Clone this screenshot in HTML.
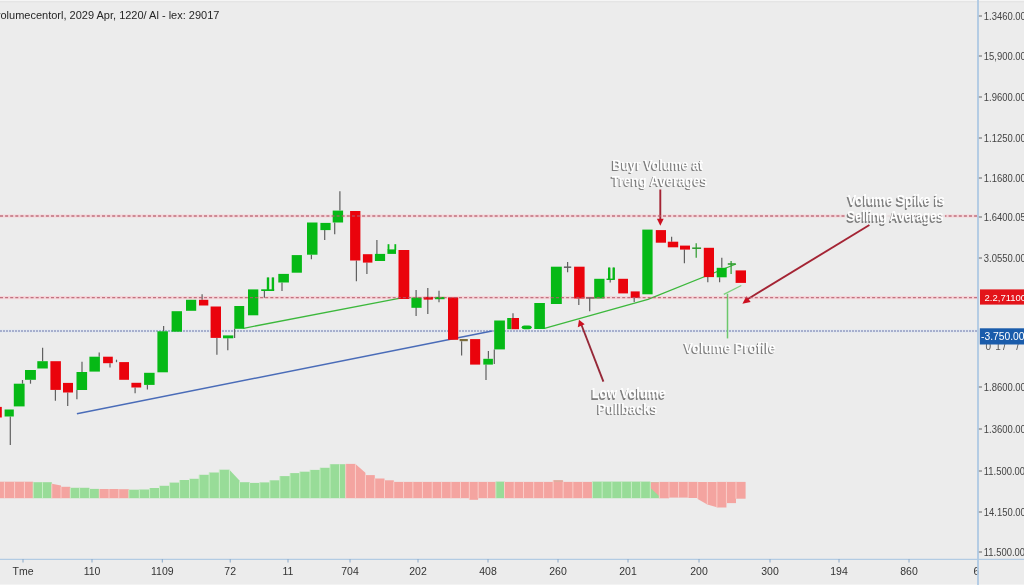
<!DOCTYPE html>
<html><head><meta charset="utf-8"><style>
html,body{margin:0;padding:0;background:#ececec;}
body{width:1024px;height:585px;overflow:hidden;position:relative;font-family:"Liberation Sans",sans-serif;}
svg{position:absolute;left:0;top:0;}
text{opacity:0.995;}
.ax{font-family:"Liberation Sans",sans-serif;font-size:10px;fill:#444;}
.xl{font-family:"Liberation Sans",sans-serif;font-size:10.5px;fill:#333;}
.ttl{font-family:"Liberation Sans",sans-serif;font-size:11px;fill:#262626;}
.an{font-family:"Liberation Sans",sans-serif;fill:#ffffff;font-weight:bold;font-size:14px;}
.sh{font-family:"Liberation Sans",sans-serif;fill:#7e7e7e;font-weight:bold;font-size:14px;}
</style></head><body>
<svg width="1024" height="585" viewBox="0 0 1024 585">
<defs><filter id="bl" x="-10%" y="-30%" width="120%" height="160%"><feGaussianBlur stdDeviation="0.6"/></filter></defs>
<rect width="1024" height="585" fill="#ececec"/>
<rect width="1024" height="1" fill="#f5f5f5"/><rect y="1" width="1024" height="1.5" fill="#e5e5e5"/><rect y="584" width="1024" height="1" fill="#f3f3f3"/>
<text x="-5" y="19.1" class="ttl">volumecentorl, 2029 Apr, 1220/ Al - lex: 29017</text>
<line x1="0" y1="216" x2="978" y2="216" stroke="#f5d5d9" stroke-width="3.2"/>
<line x1="0" y1="297.6" x2="978" y2="297.6" stroke="#f5d5d9" stroke-width="3.2"/>
<line x1="0" y1="331" x2="978" y2="331" stroke="#e2e7f0" stroke-width="3"/>
<line x1="0" y1="331" x2="978" y2="331" stroke="#6d78aa" stroke-width="1.2" stroke-dasharray="2 1"/>
<polygon points="0.0,481.7 4.4,481.7 4.4,498.2 0.0,498.2" fill="#f4a4a0"/>
<polygon points="4.4,481.7 14.6,481.7 14.6,498.2 4.4,498.2" fill="#f4a4a0"/>
<line x1="4.4" y1="481.7" x2="4.4" y2="498.2" stroke="#fbcfcb" stroke-width="0.9"/>
<polygon points="14.6,481.7 24.4,481.7 24.4,498.2 14.6,498.2" fill="#f4a4a0"/>
<line x1="14.6" y1="481.7" x2="14.6" y2="498.2" stroke="#fbcfcb" stroke-width="0.9"/>
<polygon points="24.4,481.7 33.2,481.7 33.2,498.2 24.4,498.2" fill="#f4a4a0"/>
<line x1="24.4" y1="481.7" x2="24.4" y2="498.2" stroke="#fbcfcb" stroke-width="0.9"/>
<polygon points="33.2,482.2 42.5,482.2 42.5,498.2 33.2,498.2" fill="#98dc98"/>
<line x1="33.2" y1="482.2" x2="33.2" y2="498.2" stroke="#c9efc6" stroke-width="0.9"/>
<polygon points="42.5,482.2 51.8,482.2 51.8,498.2 42.5,498.2" fill="#98dc98"/>
<line x1="42.5" y1="482.2" x2="42.5" y2="498.2" stroke="#c9efc6" stroke-width="0.9"/>
<polygon points="51.8,483.7 61.0,485.6 61.0,498.2 51.8,498.2" fill="#f4a4a0"/>
<line x1="51.8" y1="483.7" x2="51.8" y2="498.2" stroke="#fbcfcb" stroke-width="0.9"/>
<polygon points="61.0,486.8 70.3,486.8 70.3,498.2 61.0,498.2" fill="#f4a4a0"/>
<line x1="61.0" y1="486.8" x2="61.0" y2="498.2" stroke="#fbcfcb" stroke-width="0.9"/>
<polygon points="70.3,487.8 79.6,487.8 79.6,498.2 70.3,498.2" fill="#98dc98"/>
<line x1="70.3" y1="487.8" x2="70.3" y2="498.2" stroke="#c9efc6" stroke-width="0.9"/>
<polygon points="79.6,487.8 89.4,487.8 89.4,498.2 79.6,498.2" fill="#98dc98"/>
<line x1="79.6" y1="487.8" x2="79.6" y2="498.2" stroke="#c9efc6" stroke-width="0.9"/>
<polygon points="89.4,488.9 99.3,488.9 99.3,498.2 89.4,498.2" fill="#98dc98"/>
<line x1="89.4" y1="488.9" x2="89.4" y2="498.2" stroke="#c9efc6" stroke-width="0.9"/>
<polygon points="99.3,489 109.0,489 109.0,498.2 99.3,498.2" fill="#f4a4a0"/>
<line x1="99.3" y1="489" x2="99.3" y2="498.2" stroke="#fbcfcb" stroke-width="0.9"/>
<polygon points="109.0,489 118.8,489 118.8,498.2 109.0,498.2" fill="#f4a4a0"/>
<line x1="109.0" y1="489" x2="109.0" y2="498.2" stroke="#fbcfcb" stroke-width="0.9"/>
<polygon points="118.8,489.2 128.9,489.2 128.9,498.2 118.8,498.2" fill="#f4a4a0"/>
<line x1="118.8" y1="489.2" x2="118.8" y2="498.2" stroke="#fbcfcb" stroke-width="0.9"/>
<polygon points="128.9,489.7 139.3,489.7 139.3,498.2 128.9,498.2" fill="#98dc98"/>
<line x1="128.9" y1="489.7" x2="128.9" y2="498.2" stroke="#c9efc6" stroke-width="0.9"/>
<polygon points="139.3,489.5 149.6,489.5 149.6,498.2 139.3,498.2" fill="#98dc98"/>
<line x1="139.3" y1="489.5" x2="139.3" y2="498.2" stroke="#c9efc6" stroke-width="0.9"/>
<polygon points="149.6,488 159.5,488 159.5,498.2 149.6,498.2" fill="#98dc98"/>
<line x1="149.6" y1="488" x2="149.6" y2="498.2" stroke="#c9efc6" stroke-width="0.9"/>
<polygon points="159.5,485.8 169.6,485.8 169.6,498.2 159.5,498.2" fill="#98dc98"/>
<line x1="159.5" y1="485.8" x2="159.5" y2="498.2" stroke="#c9efc6" stroke-width="0.9"/>
<polygon points="169.6,482.6 179.6,482.6 179.6,498.2 169.6,498.2" fill="#98dc98"/>
<line x1="169.6" y1="482.6" x2="169.6" y2="498.2" stroke="#c9efc6" stroke-width="0.9"/>
<polygon points="179.6,480 189.5,480 189.5,498.2 179.6,498.2" fill="#98dc98"/>
<line x1="179.6" y1="480" x2="179.6" y2="498.2" stroke="#c9efc6" stroke-width="0.9"/>
<polygon points="189.5,478.8 199.1,478.8 199.1,498.2 189.5,498.2" fill="#98dc98"/>
<line x1="189.5" y1="478.8" x2="189.5" y2="498.2" stroke="#c9efc6" stroke-width="0.9"/>
<polygon points="199.1,474.8 209.1,474.8 209.1,498.2 199.1,498.2" fill="#98dc98"/>
<line x1="199.1" y1="474.8" x2="199.1" y2="498.2" stroke="#c9efc6" stroke-width="0.9"/>
<polygon points="209.1,472.5 219.3,472.5 219.3,498.2 209.1,498.2" fill="#98dc98"/>
<line x1="209.1" y1="472.5" x2="209.1" y2="498.2" stroke="#c9efc6" stroke-width="0.9"/>
<polygon points="219.3,469.7 229.4,469.7 229.4,498.2 219.3,498.2" fill="#98dc98"/>
<line x1="219.3" y1="469.7" x2="219.3" y2="498.2" stroke="#c9efc6" stroke-width="0.9"/>
<polygon points="229.4,469.7 239.5,480.5 239.5,498.2 229.4,498.2" fill="#98dc98"/>
<line x1="229.4" y1="469.7" x2="229.4" y2="498.2" stroke="#c9efc6" stroke-width="0.9"/>
<polygon points="239.5,482.2 249.6,482.2 249.6,498.2 239.5,498.2" fill="#98dc98"/>
<line x1="239.5" y1="482.2" x2="239.5" y2="498.2" stroke="#c9efc6" stroke-width="0.9"/>
<polygon points="249.6,482.9 259.8,482.9 259.8,498.2 249.6,498.2" fill="#98dc98"/>
<line x1="249.6" y1="482.9" x2="249.6" y2="498.2" stroke="#c9efc6" stroke-width="0.9"/>
<polygon points="259.8,482.4 269.8,482.4 269.8,498.2 259.8,498.2" fill="#98dc98"/>
<line x1="259.8" y1="482.4" x2="259.8" y2="498.2" stroke="#c9efc6" stroke-width="0.9"/>
<polygon points="269.8,480.3 279.8,480.3 279.8,498.2 269.8,498.2" fill="#98dc98"/>
<line x1="269.8" y1="480.3" x2="269.8" y2="498.2" stroke="#c9efc6" stroke-width="0.9"/>
<polygon points="279.8,476.1 290.0,476.1 290.0,498.2 279.8,498.2" fill="#98dc98"/>
<line x1="279.8" y1="476.1" x2="279.8" y2="498.2" stroke="#c9efc6" stroke-width="0.9"/>
<polygon points="290.0,473.1 299.8,473.1 299.8,498.2 290.0,498.2" fill="#98dc98"/>
<line x1="290.0" y1="473.1" x2="290.0" y2="498.2" stroke="#c9efc6" stroke-width="0.9"/>
<polygon points="299.8,471.7 310.0,471.7 310.0,498.2 299.8,498.2" fill="#98dc98"/>
<line x1="299.8" y1="471.7" x2="299.8" y2="498.2" stroke="#c9efc6" stroke-width="0.9"/>
<polygon points="310.0,469.9 320.0,469.9 320.0,498.2 310.0,498.2" fill="#98dc98"/>
<line x1="310.0" y1="469.9" x2="310.0" y2="498.2" stroke="#c9efc6" stroke-width="0.9"/>
<polygon points="320.0,467.8 330.0,467.8 330.0,498.2 320.0,498.2" fill="#98dc98"/>
<line x1="320.0" y1="467.8" x2="320.0" y2="498.2" stroke="#c9efc6" stroke-width="0.9"/>
<polygon points="330.0,464.2 339.5,464.2 339.5,498.2 330.0,498.2" fill="#98dc98"/>
<line x1="330.0" y1="464.2" x2="330.0" y2="498.2" stroke="#c9efc6" stroke-width="0.9"/>
<polygon points="339.5,464.2 345.7,464.2 345.7,498.2 339.5,498.2" fill="#98dc98"/>
<line x1="339.5" y1="464.2" x2="339.5" y2="498.2" stroke="#c9efc6" stroke-width="0.9"/>
<polygon points="345.7,463.9 355.4,463.9 355.4,498.2 345.7,498.2" fill="#f4a4a0"/>
<line x1="345.7" y1="463.9" x2="345.7" y2="498.2" stroke="#fbcfcb" stroke-width="0.9"/>
<polygon points="355.4,463.9 365.4,472.8 365.4,498.2 355.4,498.2" fill="#f4a4a0"/>
<line x1="355.4" y1="463.9" x2="355.4" y2="498.2" stroke="#fbcfcb" stroke-width="0.9"/>
<polygon points="365.4,475.1 374.8,475.1 374.8,498.2 365.4,498.2" fill="#f4a4a0"/>
<line x1="365.4" y1="475.1" x2="365.4" y2="498.2" stroke="#fbcfcb" stroke-width="0.9"/>
<polygon points="374.8,478.5 384.5,478.5 384.5,498.2 374.8,498.2" fill="#f4a4a0"/>
<line x1="374.8" y1="478.5" x2="374.8" y2="498.2" stroke="#fbcfcb" stroke-width="0.9"/>
<polygon points="384.5,480.3 393.8,480.3 393.8,498.2 384.5,498.2" fill="#f4a4a0"/>
<line x1="384.5" y1="480.3" x2="384.5" y2="498.2" stroke="#fbcfcb" stroke-width="0.9"/>
<polygon points="393.8,481.9 403.6,481.9 403.6,498.2 393.8,498.2" fill="#f4a4a0"/>
<line x1="393.8" y1="481.9" x2="393.8" y2="498.2" stroke="#fbcfcb" stroke-width="0.9"/>
<polygon points="403.6,481.9 412.9,481.9 412.9,498.2 403.6,498.2" fill="#f4a4a0"/>
<line x1="403.6" y1="481.9" x2="403.6" y2="498.2" stroke="#fbcfcb" stroke-width="0.9"/>
<polygon points="412.9,481.9 422.4,481.9 422.4,498.2 412.9,498.2" fill="#f4a4a0"/>
<line x1="412.9" y1="481.9" x2="412.9" y2="498.2" stroke="#fbcfcb" stroke-width="0.9"/>
<polygon points="422.4,481.9 432.2,481.9 432.2,498.2 422.4,498.2" fill="#f4a4a0"/>
<line x1="422.4" y1="481.9" x2="422.4" y2="498.2" stroke="#fbcfcb" stroke-width="0.9"/>
<polygon points="432.2,481.9 441.6,481.9 441.6,498.2 432.2,498.2" fill="#f4a4a0"/>
<line x1="432.2" y1="481.9" x2="432.2" y2="498.2" stroke="#fbcfcb" stroke-width="0.9"/>
<polygon points="441.6,481.9 451.0,481.9 451.0,498.2 441.6,498.2" fill="#f4a4a0"/>
<line x1="441.6" y1="481.9" x2="441.6" y2="498.2" stroke="#fbcfcb" stroke-width="0.9"/>
<polygon points="451.0,481.9 460.5,481.9 460.5,498.2 451.0,498.2" fill="#f4a4a0"/>
<line x1="451.0" y1="481.9" x2="451.0" y2="498.2" stroke="#fbcfcb" stroke-width="0.9"/>
<polygon points="460.5,481.9 469.3,481.9 469.3,498.2 460.5,498.2" fill="#f4a4a0"/>
<line x1="460.5" y1="481.9" x2="460.5" y2="498.2" stroke="#fbcfcb" stroke-width="0.9"/>
<polygon points="469.3,481.9 478.1,481.9 478.1,499.8 469.3,499.8" fill="#f4a4a0"/>
<line x1="469.3" y1="481.9" x2="469.3" y2="499.8" stroke="#fbcfcb" stroke-width="0.9"/>
<polygon points="478.1,481.9 487.4,481.9 487.4,498.2 478.1,498.2" fill="#f4a4a0"/>
<line x1="478.1" y1="481.9" x2="478.1" y2="498.2" stroke="#fbcfcb" stroke-width="0.9"/>
<polygon points="487.4,481.9 495.9,481.9 495.9,498.2 487.4,498.2" fill="#f4a4a0"/>
<line x1="487.4" y1="481.9" x2="487.4" y2="498.2" stroke="#fbcfcb" stroke-width="0.9"/>
<polygon points="495.9,481.6 504.5,481.6 504.5,498.2 495.9,498.2" fill="#98dc98"/>
<line x1="495.9" y1="481.6" x2="495.9" y2="498.2" stroke="#c9efc6" stroke-width="0.9"/>
<polygon points="504.5,481.9 514.2,481.9 514.2,498.2 504.5,498.2" fill="#f4a4a0"/>
<line x1="504.5" y1="481.9" x2="504.5" y2="498.2" stroke="#fbcfcb" stroke-width="0.9"/>
<polygon points="514.2,481.9 523.5,481.9 523.5,498.2 514.2,498.2" fill="#f4a4a0"/>
<line x1="514.2" y1="481.9" x2="514.2" y2="498.2" stroke="#fbcfcb" stroke-width="0.9"/>
<polygon points="523.5,481.9 533.7,481.9 533.7,498.2 523.5,498.2" fill="#f4a4a0"/>
<line x1="523.5" y1="481.9" x2="523.5" y2="498.2" stroke="#fbcfcb" stroke-width="0.9"/>
<polygon points="533.7,481.9 543.6,481.9 543.6,498.2 533.7,498.2" fill="#f4a4a0"/>
<line x1="533.7" y1="481.9" x2="533.7" y2="498.2" stroke="#fbcfcb" stroke-width="0.9"/>
<polygon points="543.6,481.9 553.1,481.9 553.1,498.2 543.6,498.2" fill="#f4a4a0"/>
<line x1="543.6" y1="481.9" x2="543.6" y2="498.2" stroke="#fbcfcb" stroke-width="0.9"/>
<polygon points="553.1,480.3 563.1,480.3 563.1,498.2 553.1,498.2" fill="#f4a4a0"/>
<rect x="553.6" y="480.3" width="9.0" height="1.6" fill="#dcb0a0"/>
<line x1="553.1" y1="480.3" x2="553.1" y2="498.2" stroke="#fbcfcb" stroke-width="0.9"/>
<polygon points="563.1,481.9 572.9,481.9 572.9,498.2 563.1,498.2" fill="#f4a4a0"/>
<line x1="563.1" y1="481.9" x2="563.1" y2="498.2" stroke="#fbcfcb" stroke-width="0.9"/>
<polygon points="572.9,481.9 582.6,481.9 582.6,498.2 572.9,498.2" fill="#f4a4a0"/>
<line x1="572.9" y1="481.9" x2="572.9" y2="498.2" stroke="#fbcfcb" stroke-width="0.9"/>
<polygon points="582.6,481.9 592.4,481.9 592.4,498.2 582.6,498.2" fill="#f4a4a0"/>
<line x1="582.6" y1="481.9" x2="582.6" y2="498.2" stroke="#fbcfcb" stroke-width="0.9"/>
<polygon points="592.4,481.6 602.1,481.6 602.1,498.2 592.4,498.2" fill="#98dc98"/>
<line x1="592.4" y1="481.6" x2="592.4" y2="498.2" stroke="#c9efc6" stroke-width="0.9"/>
<polygon points="602.1,481.6 611.9,481.6 611.9,498.2 602.1,498.2" fill="#98dc98"/>
<line x1="602.1" y1="481.6" x2="602.1" y2="498.2" stroke="#c9efc6" stroke-width="0.9"/>
<polygon points="611.9,481.6 621.7,481.6 621.7,498.2 611.9,498.2" fill="#98dc98"/>
<line x1="611.9" y1="481.6" x2="611.9" y2="498.2" stroke="#c9efc6" stroke-width="0.9"/>
<polygon points="621.7,481.6 631.4,481.6 631.4,498.2 621.7,498.2" fill="#98dc98"/>
<line x1="621.7" y1="481.6" x2="621.7" y2="498.2" stroke="#c9efc6" stroke-width="0.9"/>
<polygon points="631.4,481.6 640.7,481.6 640.7,498.2 631.4,498.2" fill="#98dc98"/>
<line x1="631.4" y1="481.6" x2="631.4" y2="498.2" stroke="#c9efc6" stroke-width="0.9"/>
<polygon points="640.7,481.6 650.3,481.6 650.3,498.2 640.7,498.2" fill="#98dc98"/>
<line x1="640.7" y1="481.6" x2="640.7" y2="498.2" stroke="#c9efc6" stroke-width="0.9"/>
<polygon points="650.3,482.2 659.3,482.2 659.3,498.2 650.3,498.2" fill="#98dc98"/>
<polygon points="650.8,482.2 659.3,482.2 659.3,496.2 650.8,488.2" fill="#f4a4a0"/>
<line x1="650.3" y1="482.2" x2="650.3" y2="498.2" stroke="#c9efc6" stroke-width="0.9"/>
<polygon points="659.3,481.9 669.0,481.9 669.0,498.3 659.3,498.3" fill="#f4a4a0"/>
<line x1="659.3" y1="481.9" x2="659.3" y2="498.3" stroke="#fbcfcb" stroke-width="0.9"/>
<polygon points="669.0,481.9 678.6,481.9 678.6,497.6 669.0,497.6" fill="#f4a4a0"/>
<line x1="669.0" y1="481.9" x2="669.0" y2="497.6" stroke="#fbcfcb" stroke-width="0.9"/>
<polygon points="678.6,481.9 688.1,481.9 688.1,497.6 678.6,497.6" fill="#f4a4a0"/>
<line x1="678.6" y1="481.9" x2="678.6" y2="497.6" stroke="#fbcfcb" stroke-width="0.9"/>
<polygon points="688.1,481.9 697.7,481.9 697.7,498 688.1,498" fill="#f4a4a0"/>
<line x1="688.1" y1="481.9" x2="688.1" y2="498" stroke="#fbcfcb" stroke-width="0.9"/>
<polygon points="697.7,481.9 707.3,481.9 707.3,504.5 697.7,499" fill="#f4a4a0"/>
<line x1="697.7" y1="481.9" x2="697.7" y2="499" stroke="#fbcfcb" stroke-width="0.9"/>
<polygon points="707.3,481.9 716.9,481.9 716.9,507.3 707.3,504.5" fill="#f4a4a0"/>
<line x1="707.3" y1="481.9" x2="707.3" y2="504.5" stroke="#fbcfcb" stroke-width="0.9"/>
<polygon points="716.9,481.9 726.4,481.9 726.4,507.5 716.9,507.5" fill="#f4a4a0"/>
<line x1="716.9" y1="481.9" x2="716.9" y2="507.5" stroke="#fbcfcb" stroke-width="0.9"/>
<polygon points="726.4,481.9 736.0,481.9 736.0,503.1 726.4,503.1" fill="#f4a4a0"/>
<line x1="726.4" y1="481.9" x2="726.4" y2="503.1" stroke="#fbcfcb" stroke-width="0.9"/>
<polygon points="736.0,481.9 745.6,481.9 745.6,498.7 736.0,498.7" fill="#f4a4a0"/>
<line x1="736.0" y1="481.9" x2="736.0" y2="498.7" stroke="#fbcfcb" stroke-width="0.9"/>
<line x1="76.9" y1="413.7" x2="492" y2="331" stroke="#4a6cb8" stroke-width="1.5"/>
<line x1="243.5" y1="328.3" x2="399" y2="298.3" stroke="#3cb83c" stroke-width="1.3"/>
<polyline points="544.5,328.4 648,299.4 736,264" fill="none" stroke="#3cb83c" stroke-width="1.3"/>
<line x1="723.8" y1="294.3" x2="741.3" y2="285.5" stroke="#7cd07c" stroke-width="1.3"/>
<line x1="727.5" y1="293.7" x2="727.5" y2="338.4" stroke="#6cc86c" stroke-width="1.5"/>
<line x1="660.3" y1="189.5" x2="660.3" y2="220" stroke="#a42434" stroke-width="1.9"/>
<polygon points="656.9,218.8 663.7,218.8 660.3,225.8" fill="#cc1020"/>
<line x1="869.4" y1="225" x2="747.5" y2="299.2" stroke="#a42434" stroke-width="1.9"/>
<polygon points="746.3,296.3 742.4,303.7 750.7,302" fill="#cc1020"/>
<line x1="603.4" y1="381.7" x2="581.5" y2="325" stroke="#962838" stroke-width="1.9"/>
<polygon points="579,319.8 577.8,327.3 584.7,324.3" fill="#cc1020"/>
<rect x="0" y="406.9" width="1.8" height="10.6" fill="#ea030c"/>
<line x1="10.3" y1="416.5" x2="10.3" y2="444.9" stroke="#606060" stroke-width="1.2"/>
<rect x="4.6" y="409.5" width="9.2" height="7.0" fill="#06b916"/>
<line x1="22.5" y1="380" x2="22.5" y2="383.7" stroke="#606060" stroke-width="1.2"/>
<rect x="13.8" y="383.7" width="10.8" height="22.7" fill="#06b916"/>
<line x1="30.5" y1="379.8" x2="30.5" y2="383.7" stroke="#606060" stroke-width="1.2"/>
<rect x="25" y="370" width="10.9" height="9.8" fill="#06b916"/>
<line x1="42.6" y1="347.8" x2="42.6" y2="361.2" stroke="#606060" stroke-width="1.2"/>
<rect x="37.3" y="361.2" width="10.5" height="7.3" fill="#06b916"/>
<line x1="55.4" y1="389.9" x2="55.4" y2="400.7" stroke="#606060" stroke-width="1.2"/>
<rect x="50.4" y="361.2" width="10.5" height="28.7" fill="#ea030c"/>
<line x1="67.7" y1="392.5" x2="67.7" y2="405.9" stroke="#606060" stroke-width="1.2"/>
<rect x="63" y="382.9" width="10.0" height="9.6" fill="#ea030c"/>
<line x1="82" y1="361.8" x2="82" y2="372" stroke="#606060" stroke-width="1.2"/>
<line x1="76.9" y1="390" x2="76.9" y2="399.3" stroke="#606060" stroke-width="1.2"/>
<rect x="76.5" y="372" width="10.6" height="18.0" fill="#06b916"/>
<line x1="99.2" y1="352.6" x2="99.2" y2="356.7" stroke="#606060" stroke-width="1.2"/>
<rect x="89.4" y="356.7" width="10.5" height="14.9" fill="#06b916"/>
<line x1="110" y1="363.2" x2="110" y2="367.5" stroke="#606060" stroke-width="1.2"/>
<rect x="103.1" y="356.7" width="9.7" height="6.5" fill="#ea030c"/>
<line x1="116.5" y1="359.7" x2="116.5" y2="362.2" stroke="#606060" stroke-width="1.2"/>
<rect x="119.2" y="362.1" width="9.8" height="17.7" fill="#ea030c"/>
<line x1="135.1" y1="387.5" x2="135.1" y2="393.3" stroke="#606060" stroke-width="1.2"/>
<rect x="131.4" y="382.8" width="9.8" height="4.7" fill="#ea030c"/>
<line x1="147.4" y1="384.9" x2="147.4" y2="389.6" stroke="#606060" stroke-width="1.2"/>
<rect x="144.1" y="372.8" width="10.5" height="12.1" fill="#06b916"/>
<line x1="163.6" y1="326" x2="163.6" y2="331.3" stroke="#606060" stroke-width="1.2"/>
<rect x="157.4" y="331.3" width="10.5" height="41.0" fill="#06b916"/>
<rect x="171.6" y="311.2" width="10.4" height="20.5" fill="#06b916"/>
<rect x="186" y="299.8" width="10.2" height="11.0" fill="#06b916"/>
<line x1="202.1" y1="294.2" x2="202.1" y2="299.8" stroke="#606060" stroke-width="1.2"/>
<rect x="199" y="299.8" width="9.3" height="5.7" fill="#ea030c"/>
<line x1="216.9" y1="337.9" x2="216.9" y2="354.7" stroke="#606060" stroke-width="1.2"/>
<rect x="210.6" y="306.5" width="10.4" height="31.4" fill="#ea030c"/>
<line x1="227.8" y1="338.3" x2="227.8" y2="350.2" stroke="#606060" stroke-width="1.2"/>
<rect x="223" y="335.4" width="10.3" height="2.9" fill="#06b916"/>
<line x1="234.6" y1="328.8" x2="234.6" y2="338" stroke="#606060" stroke-width="1.2"/>
<rect x="234.3" y="306" width="9.9" height="22.8" fill="#06b916"/>
<rect x="248" y="289.4" width="10.3" height="25.9" fill="#06b916"/>
<line x1="264.4" y1="291" x2="264.4" y2="297.8" stroke="#606060" stroke-width="1.2"/>
<rect x="261.2" y="289.3" width="13.0" height="1.7" fill="#06b916"/>
<line x1="268" y1="277.5" x2="268" y2="290" stroke="#606060" stroke-width="1.2"/>
<rect x="266.8" y="277.5" width="2.4" height="12.5" fill="#06b916"/>
<line x1="272.9" y1="277.5" x2="272.9" y2="290" stroke="#606060" stroke-width="1.2"/>
<rect x="271.7" y="277.5" width="2.4" height="12.5" fill="#06b916"/>
<line x1="282" y1="282.5" x2="282" y2="291" stroke="#606060" stroke-width="1.2"/>
<rect x="278.3" y="273.9" width="10.6" height="8.6" fill="#06b916"/>
<rect x="291.7" y="255.1" width="10.2" height="17.6" fill="#06b916"/>
<line x1="311.4" y1="254.7" x2="311.4" y2="259.2" stroke="#606060" stroke-width="1.2"/>
<rect x="307" y="222.5" width="10.5" height="32.2" fill="#06b916"/>
<line x1="324.7" y1="230.1" x2="324.7" y2="240" stroke="#606060" stroke-width="1.2"/>
<rect x="320.4" y="222.9" width="10.2" height="7.2" fill="#06b916"/>
<line x1="339.9" y1="191.2" x2="339.9" y2="210.6" stroke="#606060" stroke-width="1.2"/>
<line x1="334.7" y1="222.5" x2="334.7" y2="234.2" stroke="#606060" stroke-width="1.2"/>
<rect x="332.7" y="210.6" width="10.4" height="11.9" fill="#06b916"/>
<line x1="356.4" y1="260.5" x2="356.4" y2="281.3" stroke="#606060" stroke-width="1.2"/>
<rect x="350.1" y="211" width="10.3" height="49.5" fill="#ea030c"/>
<line x1="366.9" y1="262.6" x2="366.9" y2="274" stroke="#606060" stroke-width="1.2"/>
<rect x="362.9" y="254.2" width="9.5" height="8.4" fill="#ea030c"/>
<line x1="376.9" y1="240.1" x2="376.9" y2="253.9" stroke="#606060" stroke-width="1.2"/>
<rect x="374.9" y="253.9" width="10.2" height="7.1" fill="#06b916"/>
<rect x="387.4" y="249.4" width="8.6" height="4.5" fill="#06b916"/>
<rect x="387.6" y="244.2" width="1.8" height="5.8" fill="#06b916"/>
<rect x="394.4" y="244.2" width="1.8" height="5.8" fill="#06b916"/>
<rect x="398.5" y="250" width="10.8" height="49.0" fill="#ea030c"/>
<line x1="416.1" y1="290" x2="416.1" y2="316" stroke="#606060" stroke-width="1.2"/>
<rect x="411.4" y="297.5" width="10.2" height="10.3" fill="#06b916"/>
<line x1="427.8" y1="287.9" x2="427.8" y2="314" stroke="#606060" stroke-width="1.2"/>
<rect x="423.7" y="296.9" width="9.2" height="2.7" fill="#ea030c"/>
<line x1="439" y1="290.8" x2="439" y2="302.3" stroke="#606060" stroke-width="1.2"/>
<rect x="435" y="296.9" width="9.6" height="2.3" fill="#06b916"/>
<rect x="448" y="297.4" width="10.2" height="42.4" fill="#ea030c"/>
<line x1="461.6" y1="341.2" x2="461.6" y2="355.4" stroke="#606060" stroke-width="1.2"/>
<rect x="459.6" y="339" width="8.2" height="2.2" fill="#7b6d3c"/>
<rect x="470.1" y="339.1" width="10.1" height="25.5" fill="#ea030c"/>
<line x1="488.4" y1="351" x2="488.4" y2="358.8" stroke="#606060" stroke-width="1.2"/>
<line x1="486" y1="364.6" x2="486" y2="379.9" stroke="#606060" stroke-width="1.2"/>
<rect x="483.3" y="358.8" width="9.6" height="5.8" fill="#06b916"/>
<line x1="494.3" y1="349.4" x2="494.3" y2="363.9" stroke="#606060" stroke-width="1.2"/>
<rect x="494.2" y="320.5" width="10.7" height="28.9" fill="#06b916"/>
<rect x="507.2" y="318" width="4.3" height="11.2" fill="#06b916"/>
<line x1="513" y1="313.3" x2="513" y2="318" stroke="#606060" stroke-width="1.2"/>
<rect x="511.5" y="318" width="7.5" height="11.2" fill="#ea030c"/>
<rect x="521.7" y="325.4" width="10.0" height="3.8" rx="2.5" fill="#06b916"/>
<rect x="534.3" y="303" width="10.6" height="26.0" fill="#06b916"/>
<rect x="550.9" y="266.7" width="10.9" height="37.3" fill="#06b916"/>
<line x1="567.6" y1="262" x2="567.6" y2="272.3" stroke="#606060" stroke-width="1.2"/>
<line x1="563.9" y1="267.2" x2="571.2" y2="267.2" stroke="#606060" stroke-width="1.5"/>
<line x1="578.8" y1="298.5" x2="578.8" y2="305.1" stroke="#606060" stroke-width="1.2"/>
<rect x="574.1" y="266.7" width="10.5" height="31.8" fill="#ea030c"/>
<line x1="589.7" y1="297.9" x2="589.7" y2="311.2" stroke="#606060" stroke-width="1.2"/>
<line x1="586" y1="297.9" x2="594.2" y2="297.9" stroke="#606060" stroke-width="1.5"/>
<rect x="594.2" y="278.8" width="10.3" height="19.7" fill="#06b916"/>
<line x1="610.2" y1="280" x2="610.2" y2="282.5" stroke="#606060" stroke-width="1.2"/>
<rect x="606.5" y="278.6" width="8.2" height="1.4" fill="#06b916"/>
<line x1="609.2" y1="267.6" x2="609.2" y2="279.5" stroke="#606060" stroke-width="1.2"/>
<rect x="608" y="267.6" width="2.4" height="11.9" fill="#06b916"/>
<line x1="613.7" y1="267.6" x2="613.7" y2="279.5" stroke="#606060" stroke-width="1.2"/>
<rect x="612.5" y="267.6" width="2.4" height="11.9" fill="#06b916"/>
<rect x="618.2" y="278.8" width="9.8" height="14.6" fill="#ea030c"/>
<line x1="634.2" y1="297.9" x2="634.2" y2="302" stroke="#606060" stroke-width="1.2"/>
<rect x="630.7" y="291.4" width="9.0" height="6.5" fill="#ea030c"/>
<rect x="642.3" y="229.6" width="10.3" height="64.7" fill="#06b916"/>
<rect x="655.8" y="230.1" width="10.2" height="12.6" fill="#ea030c"/>
<line x1="671.6" y1="236.7" x2="671.6" y2="241.7" stroke="#606060" stroke-width="1.2"/>
<rect x="667.8" y="241.7" width="10.4" height="5.6" fill="#ea030c"/>
<line x1="684.4" y1="249.6" x2="684.4" y2="263.3" stroke="#606060" stroke-width="1.2"/>
<rect x="680" y="245.6" width="10.0" height="4.0" fill="#ea030c"/>
<line x1="696.2" y1="243.3" x2="696.2" y2="257.8" stroke="#2a9a2a" stroke-width="1.2"/>
<line x1="692.2" y1="248.2" x2="701.1" y2="248.2" stroke="#2a9a2a" stroke-width="1.5"/>
<line x1="707.8" y1="277.1" x2="707.8" y2="282.2" stroke="#606060" stroke-width="1.2"/>
<rect x="703.8" y="247.8" width="10.2" height="29.3" fill="#ea030c"/>
<line x1="721.8" y1="257.8" x2="721.8" y2="267.8" stroke="#606060" stroke-width="1.2"/>
<line x1="719.6" y1="277.3" x2="719.6" y2="282.2" stroke="#606060" stroke-width="1.2"/>
<rect x="716.7" y="267.8" width="10.0" height="9.5" fill="#06b916"/>
<line x1="731.1" y1="261.1" x2="731.1" y2="274" stroke="#2a9a2a" stroke-width="1.2"/>
<line x1="727.8" y1="264" x2="735.6" y2="264" stroke="#2a9a2a" stroke-width="1.5"/>
<rect x="735.6" y="270.4" width="10.4" height="12.5" fill="#ea030c"/>
<g opacity="0.8"><line x1="0" y1="216" x2="978" y2="216" stroke="#b45a6a" stroke-width="1.3" stroke-dasharray="3 2.1"/><line x1="0" y1="297.6" x2="978" y2="297.6" stroke="#b45a6a" stroke-width="1.3" stroke-dasharray="3 2.1"/></g>
<rect x="845" y="208" width="100" height="16" fill="#ececec" opacity="0.85"/>
<text x="611.0999999999999" y="171.4" class="sh" textLength="90.9" lengthAdjust="spacingAndGlyphs" filter="url(#bl)">Buyr Volume at</text>
<text x="612.3" y="170" class="an" textLength="90.9" lengthAdjust="spacingAndGlyphs">Buyr Volume at</text>
<text x="610.5" y="187.20000000000002" class="sh" textLength="95.6" lengthAdjust="spacingAndGlyphs" filter="url(#bl)">Treng Averages</text>
<text x="611.7" y="185.8" class="an" textLength="95.6" lengthAdjust="spacingAndGlyphs">Treng Averages</text>
<text x="846.5999999999999" y="206.70000000000002" class="sh" textLength="97.1" lengthAdjust="spacingAndGlyphs" filter="url(#bl)">Volume Spike is</text>
<text x="847.8" y="205.3" class="an" textLength="97.1" lengthAdjust="spacingAndGlyphs">Volume Spike is</text>
<text x="845.9" y="222.6" class="sh" textLength="96.5" lengthAdjust="spacingAndGlyphs" filter="url(#bl)">Selling Averages</text>
<text x="847.1" y="221.2" class="an" textLength="96.5" lengthAdjust="spacingAndGlyphs">Selling Averages</text>
<text x="590.5" y="399.5" class="sh" textLength="74.4" lengthAdjust="spacingAndGlyphs" filter="url(#bl)">Low Volume</text>
<text x="591.7" y="398.1" class="an" textLength="74.4" lengthAdjust="spacingAndGlyphs">Low Volume</text>
<text x="596.3" y="415.4" class="sh" textLength="59.8" lengthAdjust="spacingAndGlyphs" filter="url(#bl)">Pullbacks</text>
<text x="597.5" y="414" class="an" textLength="59.8" lengthAdjust="spacingAndGlyphs">Pullbacks</text>
<text x="682.9" y="354.09999999999997" class="sh" textLength="91.9" lengthAdjust="spacingAndGlyphs" filter="url(#bl)">Volume Profile</text>
<text x="684.1" y="352.7" class="an" textLength="91.9" lengthAdjust="spacingAndGlyphs">Volume Profile</text>
<line x1="0" y1="559.3" x2="1024" y2="559.3" stroke="#b2cbe3" stroke-width="1.3"/>
<line x1="978" y1="16" x2="982" y2="16" stroke="#666" stroke-width="1"/>
<text transform="translate(983.8 20.2) scale(0.945 1)" class="ax">1.3460.00</text>
<line x1="978" y1="56" x2="982" y2="56" stroke="#666" stroke-width="1"/>
<text transform="translate(983.8 60.2) scale(0.945 1)" class="ax">15,900.00</text>
<line x1="978" y1="97" x2="982" y2="97" stroke="#666" stroke-width="1"/>
<text transform="translate(983.8 101.2) scale(0.945 1)" class="ax">1.9600.00</text>
<line x1="978" y1="138" x2="982" y2="138" stroke="#666" stroke-width="1"/>
<text transform="translate(983.8 142.2) scale(0.945 1)" class="ax">1.1250.00</text>
<line x1="978" y1="178" x2="982" y2="178" stroke="#666" stroke-width="1"/>
<text transform="translate(983.8 182.2) scale(0.945 1)" class="ax">1.1680.00</text>
<line x1="978" y1="217" x2="982" y2="217" stroke="#666" stroke-width="1"/>
<text transform="translate(983.8 221.2) scale(0.945 1)" class="ax">1.6400.05</text>
<line x1="978" y1="258" x2="982" y2="258" stroke="#666" stroke-width="1"/>
<text transform="translate(983.8 262.2) scale(0.945 1)" class="ax">3.0550.00</text>
<line x1="978" y1="387" x2="982" y2="387" stroke="#666" stroke-width="1"/>
<text transform="translate(983.8 391.2) scale(0.945 1)" class="ax">1.8600.00</text>
<line x1="978" y1="429" x2="982" y2="429" stroke="#666" stroke-width="1"/>
<text transform="translate(983.8 433.2) scale(0.945 1)" class="ax">1.3600.00</text>
<line x1="978" y1="471" x2="982" y2="471" stroke="#666" stroke-width="1"/>
<text transform="translate(983.8 475.2) scale(0.945 1)" class="ax">11.500.00</text>
<line x1="978" y1="512" x2="982" y2="512" stroke="#666" stroke-width="1"/>
<text transform="translate(983.8 516.2) scale(0.945 1)" class="ax">14.150.00</text>
<line x1="978" y1="552" x2="982" y2="552" stroke="#666" stroke-width="1"/>
<text transform="translate(983.8 556.2) scale(0.945 1)" class="ax">11.500.00</text>
<line x1="23" y1="559" x2="23" y2="562.5" stroke="#8aa8c8" stroke-width="1"/>
<text x="23" y="575" class="xl" text-anchor="middle">Tme</text>
<line x1="92" y1="559" x2="92" y2="562.5" stroke="#8aa8c8" stroke-width="1"/>
<text x="92" y="575" class="xl" text-anchor="middle">110</text>
<line x1="162.3" y1="559" x2="162.3" y2="562.5" stroke="#8aa8c8" stroke-width="1"/>
<text x="162.3" y="575" class="xl" text-anchor="middle">1109</text>
<line x1="230.2" y1="559" x2="230.2" y2="562.5" stroke="#8aa8c8" stroke-width="1"/>
<text x="230.2" y="575" class="xl" text-anchor="middle">72</text>
<line x1="288" y1="559" x2="288" y2="562.5" stroke="#8aa8c8" stroke-width="1"/>
<text x="288" y="575" class="xl" text-anchor="middle">11</text>
<line x1="350" y1="559" x2="350" y2="562.5" stroke="#8aa8c8" stroke-width="1"/>
<text x="350" y="575" class="xl" text-anchor="middle">704</text>
<line x1="418" y1="559" x2="418" y2="562.5" stroke="#8aa8c8" stroke-width="1"/>
<text x="418" y="575" class="xl" text-anchor="middle">202</text>
<line x1="488" y1="559" x2="488" y2="562.5" stroke="#8aa8c8" stroke-width="1"/>
<text x="488" y="575" class="xl" text-anchor="middle">408</text>
<line x1="558" y1="559" x2="558" y2="562.5" stroke="#8aa8c8" stroke-width="1"/>
<text x="558" y="575" class="xl" text-anchor="middle">260</text>
<line x1="628" y1="559" x2="628" y2="562.5" stroke="#8aa8c8" stroke-width="1"/>
<text x="628" y="575" class="xl" text-anchor="middle">201</text>
<line x1="699" y1="559" x2="699" y2="562.5" stroke="#8aa8c8" stroke-width="1"/>
<text x="699" y="575" class="xl" text-anchor="middle">200</text>
<line x1="770" y1="559" x2="770" y2="562.5" stroke="#8aa8c8" stroke-width="1"/>
<text x="770" y="575" class="xl" text-anchor="middle">300</text>
<line x1="839" y1="559" x2="839" y2="562.5" stroke="#8aa8c8" stroke-width="1"/>
<text x="839" y="575" class="xl" text-anchor="middle">194</text>
<line x1="909" y1="559" x2="909" y2="562.5" stroke="#8aa8c8" stroke-width="1"/>
<text x="909" y="575" class="xl" text-anchor="middle">860</text>
<text x="976.5" y="574.5" class="xl" text-anchor="middle">6</text>
<line x1="978" y1="0" x2="978" y2="585" stroke="#aec9e4" stroke-width="1.8"/>
<text x="985.5" y="349.6" font-size="10" fill="#555" font-family="Liberation Sans">0</text>
<text x="995.2" y="349.6" font-size="10" fill="#555" font-family="Liberation Sans">1</text>
<text x="1003" y="349.6" font-size="10" fill="#555" font-family="Liberation Sans">/</text>
<text x="1016.3" y="349.6" font-size="10" fill="#555" font-family="Liberation Sans">/</text>
<rect x="980" y="289.4" width="45" height="15.2" fill="#e3141a"/>
<text x="984.6" y="300.8" font-size="9.4" fill="#fff" font-family="Liberation Sans" textLength="41.5" lengthAdjust="spacingAndGlyphs">2.2,71100</text>
<rect x="979.8" y="328.3" width="45" height="16.2" fill="#1a5cab"/>
<text x="981" y="339.7" font-size="10" fill="#fff" font-family="Liberation Sans" textLength="43.5" lengthAdjust="spacingAndGlyphs">-3.750.00</text>
</svg>
</body></html>
